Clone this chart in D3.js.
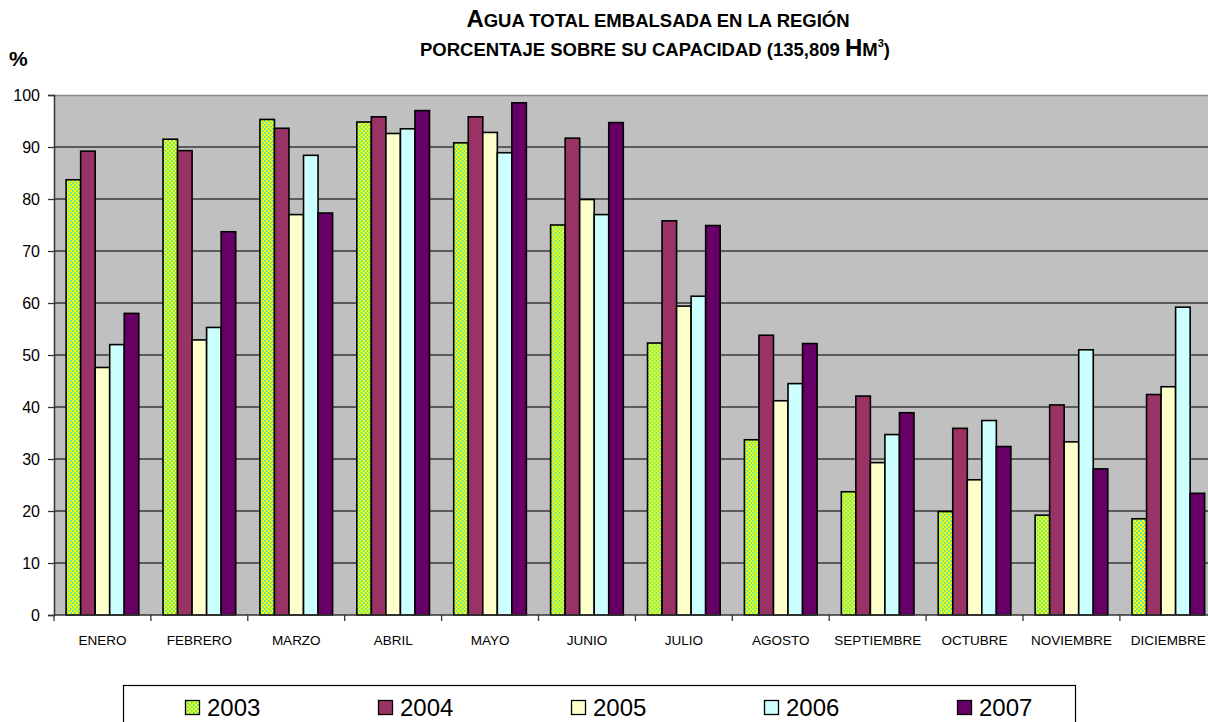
<!DOCTYPE html>
<html>
<head>
<meta charset="utf-8">
<script src="https://cdn.jsdelivr.net/npm/d3@7"></script>
<style>
  html, body { margin: 0; padding: 0; background: #fff; }
  svg { display: block; font-family: Arial, "Liberation Sans", sans-serif; }
</style>
</head>
<body>
<svg id="chart" width="1208" height="722"></svg>
<script>
const months = ["ENERO","FEBRERO","MARZO","ABRIL","MAYO","JUNIO","JULIO","AGOSTO","SEPTIEMBRE","OCTUBRE","NOVIEMBRE","DICIEMBRE"];
const years = ["2003","2004","2005","2006","2007"];
const v2003 = [83.7, 91.5, 95.3, 94.8, 90.8, 75.0, 52.3, 33.7, 23.7, 19.9, 19.2, 18.5];
const v2004 = [89.2, 89.3, 93.6, 95.8, 95.8, 91.7, 75.8, 53.8, 42.1, 35.9, 40.4, 42.4];
const v2005 = [47.6, 52.9, 77.0, 92.6, 92.8, 79.9, 59.4, 41.2, 29.3, 26.0, 33.3, 43.9];
const v2006 = [52.0, 55.3, 88.4, 93.5, 88.9, 77.0, 61.3, 44.5, 34.7, 37.4, 51.0, 59.2];
const v2007 = [58.0, 73.7, 77.3, 97.0, 98.5, 94.7, 74.9, 52.2, 38.9, 32.4, 28.1, 23.4];
const yTicks = [0,10,20,30,40,50,60,70,80,90,100];

const seriesValues = [v2003, v2004, v2005, v2006, v2007];
const fills = ["url(#dots2003)", "#993366", "#FFFFCC", "#CCFFFF", "#660066"];

const svg = d3.select("#chart");
const defs = svg.append("defs");
const pat = defs.append("pattern").attr("id","dots2003")
  .attr("patternUnits","userSpaceOnUse").attr("width",4).attr("height",4);
pat.append("rect").attr("width",4).attr("height",4).attr("fill","#FFFF00");
pat.append("rect").attr("x",0).attr("y",0).attr("width",1.6).attr("height",1.6).attr("fill","#22DDDD");
pat.append("rect").attr("x",2).attr("y",2).attr("width",1.6).attr("height",1.6).attr("fill","#22DDDD");

const pLeft = 54, pTop = 95, pBottom = 615, step = 96.9;
const pRight = pLeft + step * months.length;

const x = d3.scaleBand().domain(months).range([pLeft, pRight]).paddingInner(0.25).paddingOuter(0.125);
const xi = d3.scaleBand().domain(years).range([0, x.bandwidth()]);
const y = d3.scaleLinear().domain([0,100]).range([pBottom, pTop]);

// plot background
svg.append("rect").attr("x", pLeft).attr("y", pTop).attr("width", pRight-pLeft).attr("height", pBottom-pTop)
  .attr("fill", "#C0C0C0");
svg.append("line").attr("x1", pLeft).attr("x2", pRight).attr("y1", pTop+0.5).attr("y2", pTop+0.5)
  .attr("stroke", "#8a8a8a").attr("stroke-width", 1.5);

// gridlines
svg.append("g").selectAll("line").data(yTicks.filter(t => t>0 && t<100)).join("line")
  .attr("x1", pLeft).attr("x2", pRight)
  .attr("y1", d => y(d)).attr("y2", d => y(d))
  .attr("stroke", "#3a3a3a").attr("stroke-width", 1.3);

// bars
const groups = svg.append("g").selectAll("g").data(months).join("g")
  .attr("transform", d => `translate(${x(d)},0)`);
groups.selectAll("rect").data((m, i) => years.map((yr, s) => ({yr, s, v: seriesValues[s][i]})))
  .join("rect")
  .attr("x", d => xi(d.yr))
  .attr("width", xi.bandwidth())
  .attr("y", d => y(d.v))
  .attr("height", d => y(0) - y(d.v))
  .attr("fill", d => fills[d.s])
  .attr("stroke", "#000").attr("stroke-width", 1.6);

// y axis
const yAxis = svg.append("g").attr("transform", `translate(${pLeft},0)`)
  .call(d3.axisLeft(y).tickValues(yTicks).tickSize(6).tickPadding(8).tickFormat(d3.format("d")));
yAxis.select(".domain").attr("stroke", "#333").attr("stroke-width", 1.5);
yAxis.selectAll(".tick line").attr("stroke", "#333").attr("stroke-width", 1.3);
yAxis.selectAll("text").attr("font-size", 16).attr("fill", "#000")
  .attr("font-family", "Arial, 'Liberation Sans', sans-serif");

// x axis
const xAxis = svg.append("g").attr("transform", `translate(0,${pBottom})`)
  .call(d3.axisBottom(x).tickSize(0).tickPadding(20));
xAxis.select(".domain").remove();
xAxis.selectAll("text").attr("font-size", 13.5).attr("fill", "#000")
  .attr("font-family", "Arial, 'Liberation Sans', sans-serif");
svg.append("line").attr("x1", pLeft).attr("x2", pRight).attr("y1", pBottom).attr("y2", pBottom)
  .attr("stroke", "#333").attr("stroke-width", 1.5);
const bounds = months.map(m => x(m) - x.step()*x.paddingOuter()).concat([pRight]);
svg.append("g").selectAll("line").data(bounds).join("line")
  .attr("x1", d => d).attr("x2", d => d).attr("y1", pBottom).attr("y2", pBottom + 6)
  .attr("stroke", "#333").attr("stroke-width", 1.3);

// "%" label
svg.append("text").attr("x", 9).attr("y", 66).attr("font-size", 21).attr("font-weight", "bold").text("%");

// title
const t1 = svg.append("text").attr("x", 658).attr("y", 27).attr("text-anchor", "middle")
  .attr("font-weight", "bold").attr("font-size", 18.5);
t1.append("tspan").attr("font-size", 24).text("A");
t1.append("tspan").text("GUA TOTAL EMBALSADA EN LA REGIÓN");
const t2 = svg.append("text").attr("x", 655).attr("y", 56).attr("text-anchor", "middle")
  .attr("font-weight", "bold").attr("font-size", 18.5);
t2.append("tspan").text("PORCENTAJE SOBRE SU CAPACIDAD (135,809 ");
t2.append("tspan").attr("font-size", 24).text("H");
t2.append("tspan").text("M");
t2.append("tspan").attr("font-size", 11).attr("dy", -9).text("3");
t2.append("tspan").attr("dy", 9).text(")");

// legend
svg.append("rect").attr("x", 123.5).attr("y", 685.5).attr("width", 952).attr("height", 60)
  .attr("fill", "#fff").attr("stroke", "#000").attr("stroke-width", 1.2);
const leg = svg.append("g").selectAll("g").data(years).join("g")
  .attr("transform", (d, i) => `translate(${185 + i*193},0)`);
leg.append("rect").attr("x", 0.5).attr("y", 700.5).attr("width", 14).attr("height", 14)
  .attr("fill", (d, i) => fills[i]).attr("stroke", "#000").attr("stroke-width", 1.3);
leg.append("text").attr("x", 22).attr("y", 716).attr("font-size", 24).text(d => d);
</script>
</body>
</html>
